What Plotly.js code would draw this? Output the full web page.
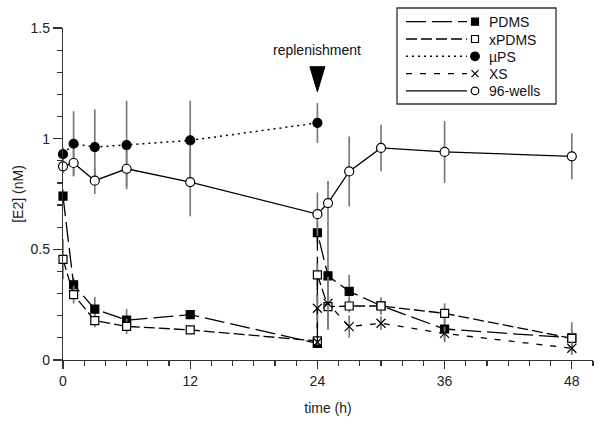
<!DOCTYPE html>
<html>
<head>
<meta charset="utf-8">
<script src="https://cdn.plot.ly/plotly-3.0.1.min.js"></script>
<style>html,body{margin:0;padding:0;background:#fff;}#chart{width:600px;height:428px;}</style>
</head>
<body>
<div id="chart"></div>
<script>
// Data
var pdmsT = [0, 1, 3, 6, 12, 24, 24, 25, 27, 30, 36, 48];
var pdmsY = [0.74, 0.34, 0.23, 0.18, 0.205, 0.075, 0.575, 0.38, 0.31, 0.245, 0.14, 0.10];
var pdmsE = [0.03, 0.03, 0.055, 0.05, 0.02, 0.02, 0.05, 0.23, 0.075, 0.03, 0.06, 0.07];

var xpdmsT = [0, 1, 3, 6, 12, 24, 24, 25, 27, 30, 36, 48];
var xpdmsY = [0.455, 0.295, 0.178, 0.152, 0.136, 0.086, 0.385, 0.241, 0.244, 0.244, 0.211, 0.098];
var xpdmsE = [0.09, 0.04, 0.03, 0.035, 0.015, 0.015, 0.05, 0.03, 0.03, 0.04, 0.045, 0.03];

var upsT = [0, 1, 3, 6, 12, 24];
var upsY = [0.93, 0.977, 0.962, 0.971, 0.992, 1.071];
var upsE = [0.03, 0.147, 0.17, 0.2, 0.18, 0.09];

var xsT = [24, 24, 25, 27, 30, 36, 48];
var xsY = [0.08, 0.234, 0.256, 0.151, 0.166, 0.12, 0.053];
var xsE = [0.01, 0.06, 0.12, 0.05, 0.03, 0.03, 0.03];

var wellsT = [0, 1, 3, 6, 12, 24, 25, 27, 30, 36, 48];
var wellsY = [0.875, 0.89, 0.81, 0.864, 0.804, 0.659, 0.709, 0.852, 0.958, 0.94, 0.92];
var wellsE = [0.03, 0.06, 0.06, 0.08, 0.155, 0.098, 0.1, 0.158, 0.105, 0.14, 0.104];

var seriesNames = ['PDMS', 'xPDMS', 'µPS', 'XS', '96-wells'];
var xTicks = [0, 12, 24, 36, 48];
var yTicks = [0, 0.5, 1, 1.5];

// ---- styles (not data) ----
var styles = [
  {dash: '20px,6px', sym: 'square', fill: '#000', size: 8, lw: 1.3},
  {dash: '11px,4px', sym: 'square', fill: '#fff', size: 8, lw: 1.3},
  {dash: '2px,4px', sym: 'circle', fill: '#000', size: 9, lw: 1.5},
  {dash: '6px,8px', sym: 'x-thin', fill: '#000', size: 9, lw: 1.3},
  {dash: 'solid', sym: 'circle', fill: '#fff', size: 9, lw: 1.3}
];
var seriesData = [
  [pdmsT, pdmsY, pdmsE], [xpdmsT, xpdmsY, xpdmsE], [upsT, upsY, upsE],
  [xsT, xsY, xsE], [wellsT, wellsY, wellsE]
];

var errStyle = function (arr) {
  return {type: 'data', array: arr, visible: true, color: '#7a7a7a', thickness: 1.7, width: 0};
};

var traces = seriesData.map(function (d, i) {
  var s = styles[i];
  return {
    x: d[0], y: d[1], name: seriesNames[i], mode: 'lines+markers', cliponaxis: false,
    showlegend: false,
    line: {color: '#000', width: s.lw, dash: s.dash},
    marker: {symbol: s.sym, size: s.size, color: s.fill, line: {color: '#000', width: 1.2}},
    error_y: errStyle(d[2])
  };
});

// ---- geometry ----
var M = {l: 63, r: 7, t: 28, b: 68};
var W = 600, H = 428;
var PW = W - M.l - M.r, PH = H - M.t - M.b;
function px2x(px) { return (px - M.l) / PW; }
function px2y(py) { return (H - M.b - py) / PH; }

// Custom legend key (line sample followed by marker, as in the reference)
var LEG = {left: 397, top: 8, right: 556, bottom: 104, row0: 21.7, rowGap: 17.3,
           lineX0: 406, lineX1: 467, markX: 475, textX: 487};
var shapes = [];
var annotations = [];
shapes.push({type: 'rect', xref: 'paper', yref: 'paper', layer: 'above',
  x0: px2x(LEG.left), x1: px2x(LEG.right), y0: px2y(LEG.bottom), y1: px2y(LEG.top),
  fillcolor: '#fff', line: {color: '#333', width: 1.3}});
seriesNames.forEach(function (name, i) {
  var s = styles[i];
  var py = LEG.row0 + i * LEG.rowGap;
  shapes.push({type: 'line', xref: 'paper', yref: 'paper', layer: 'above',
    x0: px2x(LEG.lineX0), x1: px2x(LEG.lineX1), y0: px2y(py), y1: px2y(py),
    line: {color: '#000', width: s.lw, dash: s.dash}});
  var r = (s.sym === 'square') ? 3.5 : (s.fill === '#000' ? 4.3 : 3.8);
  if (s.sym === 'x-thin') {
    shapes.push({type: 'line', xref: 'paper', yref: 'paper', layer: 'above',
      x0: px2x(LEG.markX - 3.5), x1: px2x(LEG.markX + 3.5), y0: px2y(py - 3.5), y1: px2y(py + 3.5),
      line: {color: '#000', width: 1.3}});
    shapes.push({type: 'line', xref: 'paper', yref: 'paper', layer: 'above',
      x0: px2x(LEG.markX - 3.5), x1: px2x(LEG.markX + 3.5), y0: px2y(py + 3.5), y1: px2y(py - 3.5),
      line: {color: '#000', width: 1.3}});
  } else {
    shapes.push({type: s.sym === 'square' ? 'rect' : 'circle', xref: 'paper', yref: 'paper', layer: 'above',
      x0: px2x(LEG.markX - r), x1: px2x(LEG.markX + r), y0: px2y(py + r), y1: px2y(py - r),
      fillcolor: s.fill, line: {color: '#000', width: 1.2}});
  }
  annotations.push({xref: 'paper', yref: 'paper', x: px2x(LEG.textX), y: px2y(py + 0.5),
    xanchor: 'left', yanchor: 'middle', showarrow: false, text: name,
    font: {family: 'Liberation Sans, Arial, sans-serif', size: 14, color: '#111'}});
});

var fontFam = 'Liberation Sans, Arial, sans-serif';

annotations.push({x: 24, y: 1.40, xref: 'x', yref: 'y', text: 'replenishment', showarrow: false,
  font: {family: fontFam, size: 14, color: '#111'}, xanchor: 'center', yanchor: 'middle'});
shapes.push({type: 'path', xref: 'x', yref: 'y', xsizemode: 'pixel', ysizemode: 'pixel',
  xanchor: 24, yanchor: 1.325,
  path: 'M -7.5,0 L 7.5,0 L 0,-25 Z', fillcolor: '#000', line: {color: '#000', width: 1}});

var layout = {
  width: W, height: H,
  margin: M,
  paper_bgcolor: '#fff', plot_bgcolor: '#fff',
  font: {family: fontFam, size: 14, color: '#222'},
  showlegend: false,
  xaxis: {
    range: [0, 50], tickvals: xTicks, ticktext: xTicks.map(String),
    ticks: 'outside', ticklen: 8, tickwidth: 1.2, tickcolor: '#333',
    minor: {dtick: 2, tick0: 0, ticks: 'outside', ticklen: 5, tickwidth: 1.2, tickcolor: '#333'},
    showline: true, linecolor: '#333', linewidth: 1.2,
    showgrid: false, zeroline: false,
    tickfont: {size: 14, color: '#222'},
    title: {text: 'time (h)', font: {size: 14, color: '#222'}, standoff: 15}
  },
  yaxis: {
    range: [0, 1.5], tickvals: yTicks, ticktext: ['0', '0.5', '1', '1.5'],
    ticks: 'outside', ticklen: 9, tickwidth: 1.2, tickcolor: '#333',
    minor: {dtick: 0.1, tick0: 0, ticks: 'outside', ticklen: 5, tickwidth: 1.2, tickcolor: '#333'},
    showline: true, linecolor: '#333', linewidth: 1.2,
    showgrid: false, zeroline: false,
    tickfont: {size: 14, color: '#222'},
    title: {text: '[E2] (nM)', font: {size: 14, color: '#222'}, standoff: 3}
  },
  annotations: annotations,
  shapes: shapes
};

Plotly.newPlot('chart', traces, layout, {displayModeBar: false, staticPlot: true});
</script>
</body>
</html>
